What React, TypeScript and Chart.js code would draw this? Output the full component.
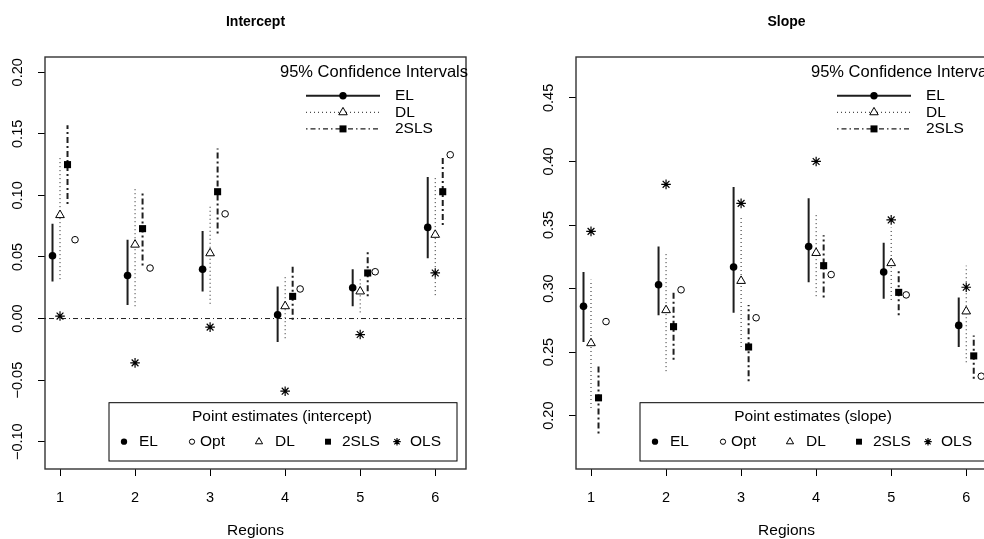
import React, { useEffect, useRef } from "react";
import { Chart, registerables } from "chart.js";
Chart.register(...registerables);

// ---------- data ----------
const regions = [1, 2, 3, 4, 5, 6];
const xTickValues = [1, 2, 3, 4, 5, 6];

const interceptYTicks = [-0.1, -0.05, 0, 0.05, 0.1, 0.15, 0.2];
const interceptYLabels = ["\u22120.10", "\u22120.05", "0.00", "0.05", "0.10", "0.15", "0.20"];
const intElEst = [0.051, 0.035, 0.040, 0.003, 0.025, 0.074];
const intElLo = [0.030, 0.011, 0.022, -0.019, 0.010, 0.049];
const intElHi = [0.077, 0.064, 0.071, 0.026, 0.040, 0.115];
const intDlEst = [0.084, 0.060, 0.053, 0.010, 0.022, 0.068];
const intDlLo = [0.032, 0.010, 0.012, -0.016, 0.005, 0.019];
const intDlHi = [0.132, 0.106, 0.093, 0.035, 0.034, 0.115];
const intTslsEst = [0.125, 0.073, 0.103, 0.018, 0.037, 0.103];
const intTslsLo = [0.093, 0.043, 0.069, -0.001, 0.018, 0.076];
const intTslsHi = [0.157, 0.104, 0.138, 0.044, 0.055, 0.131];
const intOpt = [0.064, 0.041, 0.085, 0.024, 0.038, 0.133];
const intOls = [0.002, -0.036, -0.007, -0.059, -0.013, 0.037];

const slopeYTicks = [0.2, 0.25, 0.3, 0.35, 0.4, 0.45];
const slopeYLabels = ["0.20", "0.25", "0.30", "0.35", "0.40", "0.45"];
const slElEst = [0.286, 0.303, 0.317, 0.333, 0.313, 0.271];
const slElLo = [0.258, 0.279, 0.281, 0.305, 0.292, 0.254];
const slElHi = [0.313, 0.333, 0.380, 0.371, 0.336, 0.293];
const slDlEst = [0.257, 0.283, 0.306, 0.328, 0.320, 0.282];
const slDlLo = [0.206, 0.235, 0.254, 0.294, 0.291, 0.242];
const slDlHi = [0.307, 0.328, 0.356, 0.360, 0.348, 0.318];
const slTslsEst = [0.214, 0.270, 0.254, 0.318, 0.297, 0.247];
const slTslsLo = [0.186, 0.244, 0.227, 0.293, 0.279, 0.229];
const slTslsHi = [0.240, 0.297, 0.287, 0.342, 0.314, 0.263];
const slOpt = [0.274, 0.299, 0.277, 0.311, 0.295, 0.231];
const slOls = [0.345, 0.382, 0.367, 0.400, 0.354, 0.301];

const ciLegendTitle = "95% Confidence Intervals";
const ciLegendLabels = ["EL", "DL", "2SLS"];
const pointLegendLabels = ["EL", "Opt", "DL", "2SLS", "OLS"];

// ---------- styling ----------
const FONT = "'Liberation Sans', Arial, Helvetica, sans-serif";
const INK = "#000";
const LINE = "#1e1e1e";
const EL_DASH: number[] = [];
const DL_DASH = [1, 3];
const TSLS_DASH = [2, 3, 6, 3];

function intervalPoints(off: number, lo: number[], hi: number[]) {
  const pts: any[] = [];
  regions.forEach((r, i) => {
    pts.push({ x: r + off, y: lo[i] }, { x: r + off, y: hi[i] }, { x: r + off, y: null });
  });
  return pts;
}
function estPoints(off: number, vals: number[]) {
  return regions.map((r, i) => ({ x: r + off, y: vals[i] }));
}

type Sym = "dot" | "open" | "tri" | "sq" | "star";
function drawSym(ctx: CanvasRenderingContext2D, s: Sym, x: number, y: number, k = 1) {
  ctx.save();
  ctx.setLineDash([]);
  ctx.strokeStyle = INK;
  ctx.fillStyle = INK;
  ctx.lineWidth = 1;
  if (s === "dot") {
    ctx.beginPath(); ctx.arc(x, y, 3.7 * k, 0, Math.PI * 2); ctx.fill();
  } else if (s === "open") {
    ctx.beginPath(); ctx.arc(x, y, 3.1 * k, 0, Math.PI * 2); ctx.stroke();
  } else if (s === "tri") {
    const r = 4.9 * k;
    ctx.beginPath();
    ctx.moveTo(x, y - r);
    ctx.lineTo(x + r * 0.866, y + r * 0.5);
    ctx.lineTo(x - r * 0.866, y + r * 0.5);
    ctx.closePath();
    ctx.fillStyle = "#fff"; ctx.fill(); ctx.stroke();
  } else if (s === "sq") {
    const h = 3.5 * k;
    ctx.fillRect(x - h, y - h, 2 * h, 2 * h);
  } else if (s === "star") {
    const r = 4.4 * k;
    ctx.lineWidth = 1.2;
    ctx.beginPath();
    ctx.moveTo(x - r, y); ctx.lineTo(x + r, y);
    ctx.moveTo(x, y - r); ctx.lineTo(x, y + r);
    const d = r * 0.707;
    ctx.moveTo(x - d, y - d); ctx.lineTo(x + d, y + d);
    ctx.moveTo(x - d, y + d); ctx.lineTo(x + d, y - d);
    ctx.stroke();
  }
  ctx.restore();
}

interface PanelCfg {
  title: string;
  yMin: number;
  yMax: number;
  yTicks: number[];
  yLabels: string[];
  elEst: number[]; elLo: number[]; elHi: number[];
  dlEst: number[]; dlLo: number[]; dlHi: number[];
  tsEst: number[]; tsLo: number[]; tsHi: number[];
  opt: number[]; ols: number[];
  pointTitle: string;
  zeroLine: boolean;
}

const interceptCfg: PanelCfg = {
  title: "Intercept", yMin: -0.1222, yMax: 0.2124, yTicks: interceptYTicks, yLabels: interceptYLabels,
  elEst: intElEst, elLo: intElLo, elHi: intElHi,
  dlEst: intDlEst, dlLo: intDlLo, dlHi: intDlHi,
  tsEst: intTslsEst, tsLo: intTslsLo, tsHi: intTslsHi,
  opt: intOpt, ols: intOls,
  pointTitle: "Point estimates (intercept)", zeroLine: true,
};
const slopeCfg: PanelCfg = {
  title: "Slope", yMin: 0.158, yMax: 0.4822, yTicks: slopeYTicks, yLabels: slopeYLabels,
  elEst: slElEst, elLo: slElLo, elHi: slElHi,
  dlEst: slDlEst, dlLo: slDlLo, dlHi: slDlHi,
  tsEst: slTslsEst, tsLo: slTslsLo, tsHi: slTslsHi,
  opt: slOpt, ols: slOls,
  pointTitle: "Point estimates (slope)", zeroLine: false,
};

const X_MIN = 0.8;
const X_MAX = 6.41;

function makeDecor(cfg: PanelCfg) {
  return {
    id: "decor",
    beforeDraw(chart: any) {
      const { ctx, width, height } = chart;
      ctx.save();
      ctx.fillStyle = "#fff";
      ctx.fillRect(0, 0, width, height);
      ctx.restore();
    },
    afterDraw(chart: any) {
      const { ctx, chartArea: ca, scales } = chart;
      const L = ca.left, R = ca.right, T = ca.top, B = ca.bottom;
      ctx.save();
      // plot box
      ctx.strokeStyle = "#333";
      ctx.lineWidth = 1.4;
      ctx.setLineDash([]);
      ctx.strokeRect(L, T, R - L, B - T);

      // y tick labels (rotated, R style)
      ctx.fillStyle = INK;
      ctx.font = `14.5px ${FONT}`;
      ctx.textAlign = "center";
      ctx.textBaseline = "middle";
      cfg.yTicks.forEach((v, i) => {
        const y = scales.y.getPixelForValue(v);
        ctx.save();
        ctx.translate(L - 27, y);
        ctx.rotate(-Math.PI / 2);
        ctx.fillText(cfg.yLabels[i], 0, 0);
        ctx.restore();
      });

      // title
      ctx.font = `bold 14px ${FONT}`;
      ctx.fillText(cfg.title, (L + R) / 2, 22);
      // x axis title
      ctx.font = `15.5px ${FONT}`;
      ctx.fillText("Regions", (L + R) / 2, B + 62);

      // CI legend (top right)
      ctx.textAlign = "left";
      ctx.font = `16.5px ${FONT}`;
      ctx.fillText(ciLegendTitle, R - 186, T + 15.5);
      ctx.font = `15.5px ${FONT}`;
      const rows = [
        { dash: EL_DASH, w: 2, sym: "dot" as Sym },
        { dash: DL_DASH, w: 1, sym: "tri" as Sym },
        { dash: [1.5, 3, 5, 3], w: 1.3, sym: "sq" as Sym },
      ];
      rows.forEach((r, i) => {
        const y = T + 38.7 + i * 16.6;
        ctx.save();
        ctx.strokeStyle = LINE;
        ctx.lineWidth = r.w;
        ctx.setLineDash(r.dash);
        ctx.beginPath();
        ctx.moveTo(R - 160, y);
        ctx.lineTo(R - 86, y);
        ctx.stroke();
        ctx.restore();
        drawSym(ctx, r.sym, R - 123, y);
        ctx.fillStyle = INK;
        ctx.fillText(ciLegendLabels[i], R - 71, y);
      });

      // point legend (bottom)
      ctx.save();
      ctx.strokeStyle = INK;
      ctx.lineWidth = 1;
      ctx.setLineDash([]);
      ctx.strokeRect(L + 64, B - 66.3, 348, 58.3);
      ctx.restore();
      ctx.textAlign = "center";
      ctx.fillText(cfg.pointTitle, L + 237, B - 52.3);
      ctx.textAlign = "left";
      const syms: Sym[] = ["dot", "open", "tri", "sq", "star"];
      const symX = [79, 147, 214, 283, 352];
      const txtX = [94, 155, 230, 297, 365];
      syms.forEach((s, i) => {
        drawSym(ctx, s, L + symX[i], B - 27.3, 0.85);
        ctx.fillStyle = INK;
        ctx.fillText(pointLegendLabels[i], L + txtX[i], B - 27.3);
      });
      ctx.restore();
    },
  };
}

function Panel({ cfg, left }: { cfg: PanelCfg; left: number }) {
  const ref = useRef<HTMLCanvasElement>(null);
  useEffect(() => {
    const datasets: any[] = [
      // point estimates
      { label: "EL", data: estPoints(-0.1, cfg.elEst), pointStyle: "circle", pointRadius: 3.8, pointHoverRadius: 3.8, backgroundColor: INK, borderColor: INK, borderWidth: 0, showLine: false, order: 1 },
      { label: "Opt", data: estPoints(0.2, cfg.opt), pointStyle: "circle", pointRadius: 3.3, pointHoverRadius: 3.3, backgroundColor: "#fff", borderColor: INK, borderWidth: 1, showLine: false, order: 1 },
      { label: "DL", data: estPoints(0, cfg.dlEst), pointStyle: "triangle", pointRadius: 5.0, pointHoverRadius: 5.0, backgroundColor: "#fff", borderColor: INK, borderWidth: 1, showLine: false, order: 1 },
      { label: "2SLS", data: estPoints(0.1, cfg.tsEst), pointStyle: "rect", pointRadius: 5.0, pointHoverRadius: 5.0, backgroundColor: INK, borderColor: INK, borderWidth: 0, showLine: false, order: 1 },
      { label: "OLS", data: estPoints(0, cfg.ols), pointStyle: "star", pointRadius: 4.8, pointHoverRadius: 4.8, backgroundColor: INK, borderColor: INK, borderWidth: 1.2, showLine: false, order: 1 },
      // intervals
      { label: "EL CI", data: intervalPoints(-0.1, cfg.elLo, cfg.elHi), showLine: true, spanGaps: false, borderColor: LINE, borderWidth: 2, borderDash: EL_DASH, pointRadius: 0, pointHoverRadius: 0, fill: false, order: 2 },
      { label: "DL CI", data: intervalPoints(0, cfg.dlLo, cfg.dlHi), showLine: true, spanGaps: false, borderColor: LINE, borderWidth: 1, borderDash: DL_DASH, pointRadius: 0, pointHoverRadius: 0, fill: false, order: 2 },
      { label: "2SLS CI", data: intervalPoints(0.1, cfg.tsLo, cfg.tsHi), showLine: true, spanGaps: false, borderColor: LINE, borderWidth: 2, borderDash: TSLS_DASH, pointRadius: 0, pointHoverRadius: 0, fill: false, order: 2 },
    ];
    if (cfg.zeroLine) {
      datasets.push({ label: "zero", data: [{ x: X_MIN, y: 0 }, { x: X_MAX, y: 0 }], showLine: true, borderColor: LINE, borderWidth: 1, borderDash: [1, 3, 5, 3], pointRadius: 0, pointHoverRadius: 0, fill: false, order: 3 });
    }
    const tickGrid = { display: true, drawOnChartArea: false, drawTicks: true, tickLength: 7, color: INK, tickColor: INK, lineWidth: 1 };
    const chart = new Chart(ref.current!, {
      type: "scatter",
      data: { datasets },
      options: {
        animation: false,
        responsive: false,
        maintainAspectRatio: false,
        events: [],
        layout: { padding: { top: 57, right: 26, bottom: 0, left: 0 } },
        plugins: { legend: { display: false }, tooltip: { enabled: false }, title: { display: false } },
        scales: {
          x: {
            type: "linear", min: X_MIN, max: X_MAX,
            afterBuildTicks: (s: any) => { s.ticks = xTickValues.map((v) => ({ value: v })); },
            afterFit: (s: any) => { s.height = 70; },
            grid: tickGrid as any,
            border: { display: false },
            ticks: { color: INK, font: { family: FONT, size: 14.5 }, padding: 13.5, maxRotation: 0, autoSkip: false, callback: (v: any) => String(v) },
          },
          y: {
            type: "linear", min: cfg.yMin, max: cfg.yMax,
            afterBuildTicks: (s: any) => { s.ticks = cfg.yTicks.map((v) => ({ value: v })); },
            afterFit: (s: any) => { s.width = 45; },
            grid: tickGrid as any,
            border: { display: false },
            ticks: { display: false },
          },
        },
      },
      plugins: [makeDecor(cfg)],
    } as any);
    return () => chart.destroy();
  }, [cfg]);
  return (
    <canvas
      ref={ref}
      width={492}
      height={539}
      style={{ position: "absolute", left, top: 0, width: 492, height: 539 }}
    />
  );
}

export default function App() {
  return (
    <div style={{ position: "fixed", left: 0, top: 0, width: 984, height: 539, overflow: "hidden", background: "#fff" }}>
      <Panel cfg={interceptCfg} left={0} />
      <Panel cfg={slopeCfg} left={531} />
    </div>
  );
}
